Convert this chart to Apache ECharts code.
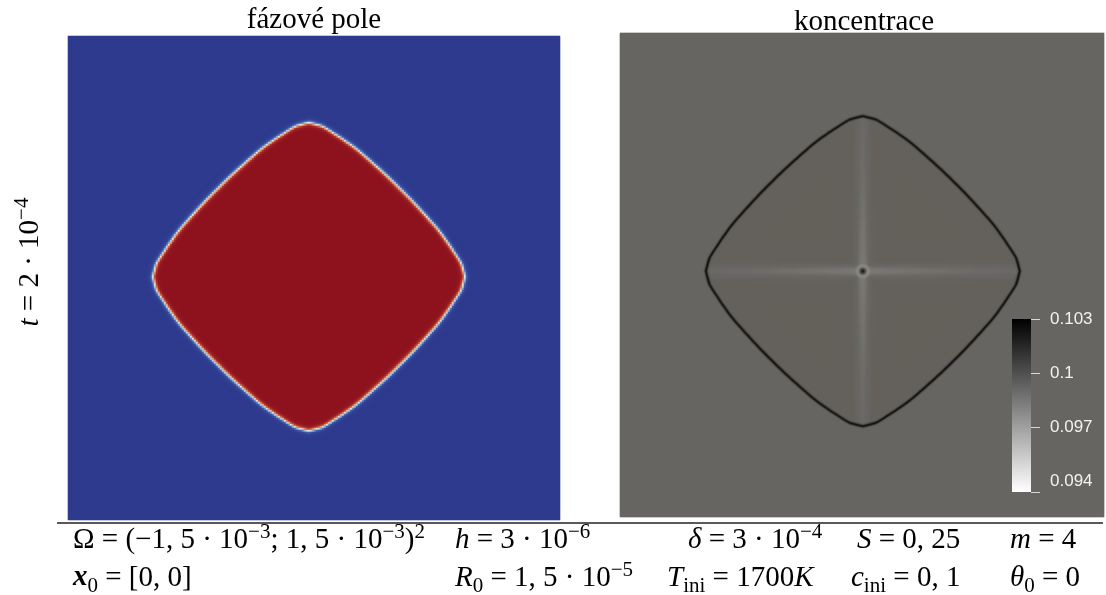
<!DOCTYPE html>
<html>
<head>
<meta charset="utf-8">
<script src="https://cdn.jsdelivr.net/npm/echarts@6.0.0/dist/echarts.min.js"></script>
<style>
html,body{margin:0;padding:0;background:#ffffff;}
#chart{width:1106px;height:595px;}
</style>
</head>
<body>
<div id="chart"></div>
<script>
// ================= values =================
const panelTitles = ['fázové pole', 'koncentrace'];
// crystal boundary: radius (x 1e-3) against the angle from the nearest axis (deg)
const boundaryAngle  = [0, 5, 10, 15, 20, 25, 30, 35, 40, 45];
const boundaryRadius = [0.951, 0.933, 0.896, 0.866, 0.841, 0.817, 0.799, 0.787, 0.780, 0.777];
// visible part of the domain (x 1e-3) in each panel
const phaseDomainX = [-1.470, 1.530];
const phaseDomainY = [-1.500, 1.488];
const concDomainX  = [-1.473, 1.461];
const concDomainY  = [-1.506, 1.463];
// phase field: liquid, solid
const phaseLevels = [0, 1];
// concentration levels
const concLevelName  = ['outside', 'inside', 'interface', 'axis ray centre', 'axis ray tip', 'centre', 'centre rim'];
const concLevelValue = [0.09908, 0.09922, 0.10250, 0.09820, 0.09890, 0.10200, 0.09770];
// colour bar
const colorbarRange = [0.0934, 0.103];
const colorbarTicks = [0.094, 0.097, 0.1, 0.103];
const colorbarTickMarks = [0.0934, 0.097, 0.1, 0.103];
// grid resolution (cells)
const phaseCells = [246, 242];
const concCells  = [484, 484];

// ================= field construction =================
const interfaceWidth = 0.0135;
const ringWidth = 0.0085, rayWidth = 0.032, dotRadius = 0.017, rimRadius = 0.032, rimWidth = 0.011;

function boundaryAt(thetaDeg) {
  let a = Math.abs(thetaDeg) % 90;
  if (a > 45) a = 90 - a;
  for (let k = 1; k < boundaryAngle.length; k++) {
    if (a <= boundaryAngle[k]) {
      const t = (a - boundaryAngle[k - 1]) / (boundaryAngle[k] - boundaryAngle[k - 1]);
      return boundaryRadius[k - 1] + t * (boundaryRadius[k] - boundaryRadius[k - 1]);
    }
  }
  return boundaryRadius[boundaryRadius.length - 1];
}

function buildField(cells, xr, yr, fn) {
  const nx = cells[0], ny = cells[1], out = [];
  for (let j = 0; j < ny; j++) {
    const y = yr[1] - (j + 0.5) * (yr[1] - yr[0]) / ny;
    for (let i = 0; i < nx; i++) {
      const x = xr[0] + (i + 0.5) * (xr[1] - xr[0]) / nx;
      out.push([i, j, fn(x, y)]);
    }
  }
  return out;
}

function phaseAt(x, y) {
  const r = Math.hypot(x, y);
  const rb = boundaryAt(Math.atan2(y, x) * 180 / Math.PI);
  const s = 0.5 * (1 - Math.tanh((r - rb) / interfaceWidth));
  return phaseLevels[0] + (phaseLevels[1] - phaseLevels[0]) * s;
}

function concAt(x, y) {
  const [outV, inV, ringV, rayC, rayT, cenV, rimV] = concLevelValue;
  const r = Math.hypot(x, y);
  const rb = boundaryAt(Math.atan2(y, x) * 180 / Math.PI);
  const d = r - rb;
  const inside = 0.5 * (1 - Math.tanh(d / 0.010));
  let c = outV + (inV - outV) * inside;
  const ringF = Math.exp(-(d / ringWidth) * (d / ringWidth));
  const frac = Math.min(r / rb, 1);
  const rayV = rayC + (rayT - rayC) * Math.sqrt(frac);
  const ray = Math.max(Math.exp(-(y / rayWidth) * (y / rayWidth)), Math.exp(-(x / rayWidth) * (x / rayWidth)));
  c += (rayV - inV) * ray * inside * (1 - ringF);
  c += (ringV - c) * ringF;
  const rimF = Math.exp(-((r - rimRadius) / rimWidth) * ((r - rimRadius) / rimWidth));
  c += (rimV - c) * rimF;
  const dotF = Math.exp(-(r / dotRadius) * (r / dotRadius));
  c += (cenV - c) * dotF;
  return c;
}

const phaseData = buildField(phaseCells, phaseDomainX, phaseDomainY, phaseAt);
const concData  = buildField(concCells, concDomainX, concDomainY, concAt);

// ================= colours =================
const phaseColors = ['#2f3b8e', '#4566b2', '#9fc3e4', '#ece8df', '#eca77f', '#bf4a34', '#8f131f'];
const concColors = [];
for (let k = 0; k <= 12; k++) {
  const b = 1 - k / 12, t = 4 * b * (1 - b);
  const R = Math.round(255 * b), G = Math.round(255 * b - 2 * t), B = Math.round(255 * b - 6 * t);
  concColors.push('rgb(' + R + ',' + Math.max(G, 0) + ',' + Math.max(B, 0) + ')');
}

// ================= text =================
const serif = '"Liberation Serif","Times New Roman",serif';
const sans = '"Liberation Sans",Arial,sans-serif';
const FS = 29, FSS = 21;
const rich = {
  n:   { fontFamily: serif, fontSize: FS, fill: '#000' },
  i:   { fontFamily: serif, fontSize: FS, fontStyle: 'italic', fill: '#000' },
  b:   { fontFamily: serif, fontSize: FS, fontStyle: 'italic', fontWeight: 'bold', fill: '#000' },
  sup: { fontFamily: serif, fontSize: FSS, fill: '#000', padding: [0, 0, 15, 0] },
  sub: { fontFamily: serif, fontSize: FSS, fill: '#000', padding: [16, 0, 0, 0] }
};
function rt(x, y, text, extra) {
  return Object.assign({
    type: 'text', x: x, y: y, z: 20,
    style: { text: text, rich: rich, align: 'left', verticalAlign: 'middle', textAlign: 'left', textVerticalAlign: 'middle' }
  }, extra || {});
}
const row1 = 540, row2 = 578;
const ylab = '{i|t}{n| = 2 · 10}{sup|−4}';
const graphics = [
  { type: 'text', x: 314, y: 20, z: 20, style: { text: panelTitles[0], fontFamily: serif, fontSize: FS, fill: '#000', align: 'center', verticalAlign: 'middle', textAlign: 'center', textVerticalAlign: 'middle' } },
  { type: 'text', x: 864, y: 22, z: 20, style: { text: panelTitles[1], fontFamily: serif, fontSize: FS, fill: '#000', align: 'center', verticalAlign: 'middle', textAlign: 'center', textVerticalAlign: 'middle' } },
  { type: 'line', z: 20, shape: { x1: 57, y1: 523, x2: 1103, y2: 523 }, style: { stroke: '#222', lineWidth: 1.5 } },
  { type: 'text', x: 30, y: 262, z: 20, rotation: Math.PI / 2,
    style: { text: ylab, rich: rich, align: 'center', verticalAlign: 'middle', textAlign: 'center', textVerticalAlign: 'middle' } },
  rt(73, row1, '{n|Ω = (−1, 5 · 10}{sup|−3}{n|; 1, 5 · 10}{sup|−3}{n|)}{sup|2}'),
  rt(455, row1, '{i|h}{n| = 3 · 10}{sup|−6}'),
  rt(688, row1, '{i|δ}{n| = 3 · 10}{sup|−4}'),
  rt(857, row1, '{i|S}{n| = 0, 25}'),
  rt(1010, row1, '{i|m}{n| = 4}'),
  rt(73, row2, '{b|x}{sub|0}{n| = [0, 0]}'),
  rt(455, row2, '{i|R}{sub|0}{n| = 1, 5 · 10}{sup|−5}'),
  rt(667, row2, '{i|T}{sub|ini}{n| = 1700}{i|K}'),
  rt(851, row2, '{i|c}{sub|ini}{n| = 0, 1}'),
  rt(1010, row2, '{i|θ}{sub|0}{n| = 0}')
];

// ================= chart =================
const idx = n => Array.from({ length: n }, (_, i) => i);
const chart = echarts.init(document.getElementById('chart'), null, { renderer: 'canvas' });
chart.setOption({
  animation: false,
  backgroundColor: '#ffffff',
  grid: [
    { left: 68, top: 36, width: 492, height: 484 },
    { left: 620, top: 33, width: 484, height: 484 },
    { left: 1012, top: 319, width: 19, height: 173 }
  ],
  xAxis: [
    { type: 'category', gridIndex: 0, data: idx(phaseCells[0]), show: false },
    { type: 'category', gridIndex: 1, data: idx(concCells[0]), show: false },
    { type: 'category', gridIndex: 2, data: ['c'], show: false }
  ],
  yAxis: [
    { type: 'category', gridIndex: 0, data: idx(phaseCells[1]), inverse: true, show: false },
    { type: 'category', gridIndex: 1, data: idx(concCells[1]), inverse: true, show: false },
    {
      type: 'value', gridIndex: 2, position: 'right', min: colorbarRange[0], max: colorbarRange[1], z: 12,
      splitLine: { show: false }, axisLine: { show: false },
      axisTick: { show: true, length: 9, customValues: colorbarTickMarks, lineStyle: { color: '#d8d8d8', width: 1 } },
      axisLabel: { customValues: colorbarTicks, margin: 19, color: '#f2f2f2', fontFamily: sans, fontSize: 17,
        formatter: v => String(+(+v).toFixed(3)) }
    }
  ],
  visualMap: [
    { type: 'continuous', show: false, seriesIndex: 0, dimension: 2, min: phaseLevels[0], max: phaseLevels[1], inRange: { color: phaseColors } },
    { type: 'continuous', show: false, seriesIndex: 1, dimension: 2, min: colorbarRange[0], max: colorbarRange[1], inRange: { color: concColors } }
  ],
  series: [
    { type: 'heatmap', xAxisIndex: 0, yAxisIndex: 0, data: phaseData, progressive: 0, silent: true, emphasis: { disabled: true } },
    { type: 'heatmap', xAxisIndex: 1, yAxisIndex: 1, data: concData, progressive: 0, silent: true, emphasis: { disabled: true } },
    { type: 'bar', xAxisIndex: 2, yAxisIndex: 2, data: [colorbarRange[1]], barWidth: '100%', silent: true, z: 10,
      itemStyle: { color: new echarts.graphic.LinearGradient(0, 0, 0, 1, [{ offset: 0, color: '#000000' }, { offset: 1, color: '#ffffff' }]) } }
  ],
  graphic: graphics
});
</script>
</body>
</html>
